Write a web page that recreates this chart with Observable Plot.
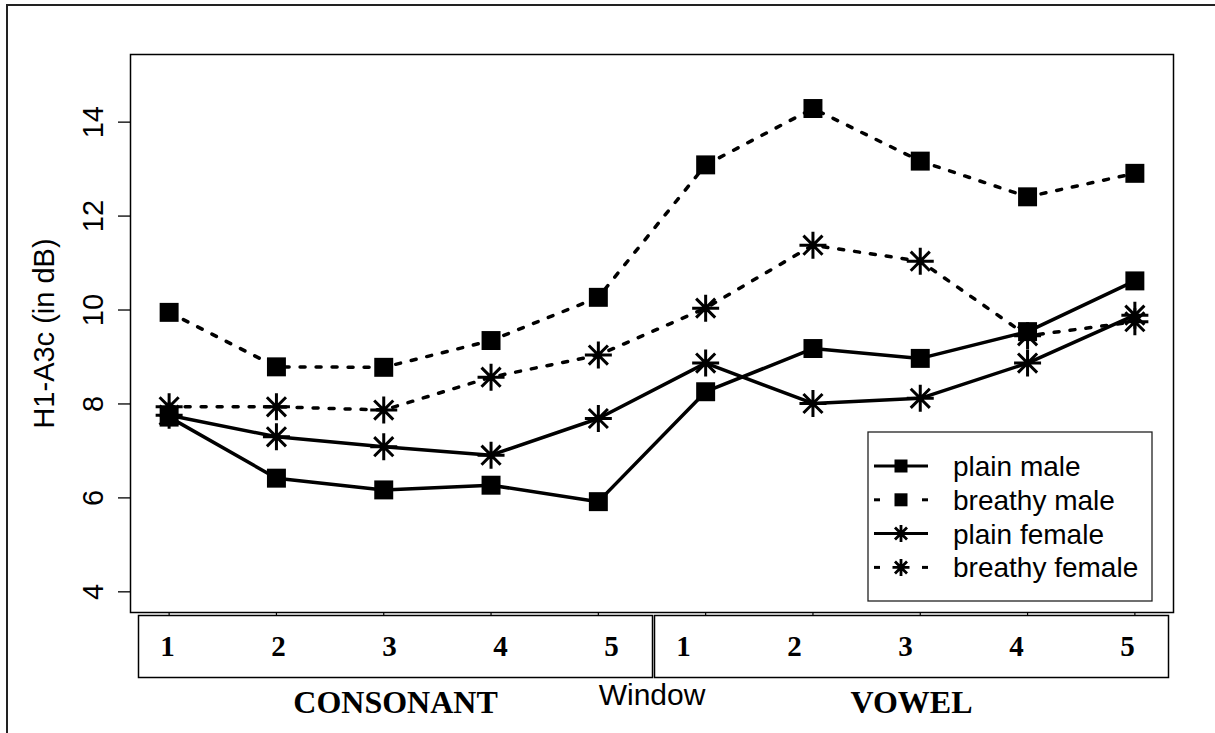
<!DOCTYPE html>
<html><head><meta charset="utf-8">
<script src="https://cdn.jsdelivr.net/npm/d3@7"></script>
<script src="https://cdn.jsdelivr.net/npm/@observablehq/plot@0.6"></script>
<style>
body{margin:0;background:#fff}
#wrap{position:relative;width:1215px;height:733px;overflow:hidden;background:#fff}
#wrap svg{position:absolute;left:0}
</style></head><body><div id="wrap"></div>
<script>
// ---------- data ----------
const windowIndex = [1,2,3,4,5,6,7,8,9,10];
const windowLabels = [1,2,3,4,5];
const sections = ["CONSONANT","VOWEL"];
const seriesNames = ["plain male","breathy male","plain female","breathy female"];
const plainMale     = [7.72, 6.42, 6.17, 6.27, 5.92, 8.26, 9.18, 8.97, 9.54, 10.62];
const breathyMale   = [9.95, 8.79, 8.78, 9.35, 10.27, 13.09, 14.29, 13.17, 12.41, 12.91];
const plainFemale   = [7.76, 7.30, 7.09, 6.91, 7.69, 8.87, 8.01, 8.12, 8.87, 9.89];
const breathyFemale = [7.94, 7.94, 7.87, 8.57, 9.04, 10.04, 11.38, 11.04, 9.45, 9.75];
const yTicks = [4,6,8,10,12,14];
const yLimits = [4,15];
const yTitle = "H1-A3c (in dB)";
const xTitle = "Window";

// ---------- setup ----------
const seriesValues = [plainMale, breathyMale, plainFemale, breathyFemale];
const rows = seriesNames.flatMap((s, k) => windowIndex.map((x, i) => ({
  series: s, x, y: seriesValues[k][i],
  dashed: s.startsWith("breathy"), male: s.endsWith(" male")
})));
const sans = "'Liberation Sans', Arial, sans-serif";
const serif = "'Liberation Serif', 'Times New Roman', serif";
const expand = ([a, b]) => { const p = (b - a) * 0.04; return [a - p, b + p]; };
const star = {draw(ctx, size) {
  const r = Math.sqrt(size / Math.PI), d = r * Math.SQRT1_2;
  ctx.moveTo(0, -r); ctx.lineTo(0, r);
  ctx.moveTo(-r, 0); ctx.lineTo(r, 0);
  ctx.moveTo(-d, -d); ctx.lineTo(d, d);
  ctx.moveTo(-d, d); ctx.lineTo(d, -d);
}};

const main = Plot.plot({
  width: 1215, height: 733,
  marginLeft: 130, marginRight: 42, marginTop: 54, marginBottom: 121,
  style: {fontFamily: sans, background: "transparent", color: "black"},
  x: {domain: expand(d3.extent(windowIndex)), axis: null},
  y: {domain: expand(yLimits), axis: null},
  marks: [
    Plot.axisX(windowIndex, {tickSize: 3, tickFormat: () => "", label: null, strokeWidth: 1.2}),
    Plot.axisY(yTicks, {tickSize: 12, tickFormat: () => "", label: null, strokeWidth: 1.3}),
    Plot.text(yTicks, {y: d => d, text: d => String(d), frameAnchor: "left", dx: -28,
      rotate: -90, lineAnchor: "bottom", textAnchor: "middle", fontSize: 29}),
    Plot.text([yTitle], {text: d => d, frameAnchor: "left", dx: -77, rotate: -90,
      lineAnchor: "bottom", textAnchor: "middle", fontSize: 29}),
    Plot.text([xTitle], {text: d => d, frameAnchor: "bottom", dy: 92, lineAnchor: "bottom", fontSize: 30}),
    Plot.frame({stroke: "black", strokeWidth: 1.5}),
    Plot.line(rows.filter(d => !d.dashed), {x: "x", y: "y", z: "series", stroke: "black", strokeWidth: 3.5}),
    Plot.line(rows.filter(d => d.dashed), {x: "x", y: "y", z: "series", stroke: "black", strokeWidth: 3.5,
      strokeDasharray: "5,11", strokeLinecap: "round"}),
    Plot.dot(rows.filter(d => d.male), {x: "x", y: "y", symbol: "square", r: 10.7, fill: "black"}),
    Plot.dot(rows.filter(d => !d.male), {x: "x", y: "y", symbol: star, r: 13.5, stroke: "black", strokeWidth: 3, fill: "none"})
  ]
});

// outer frame + legend
const svg = d3.select(main);
svg.append("rect").attr("x", 7).attr("y", 5).attr("width", 1400).attr("height", 900)
  .attr("fill", "none").attr("stroke", "#222").attr("stroke-width", 2);
const lg = svg.append("g").attr("text-anchor", "start");
lg.append("rect").attr("x", 868).attr("y", 432).attr("width", 284).attr("height", 169)
  .attr("fill", "white").attr("stroke", "#222").attr("stroke-width", 1.3);
seriesNames.forEach((s, i) => {
  const y = 466 + i * 33.8, dashed = s.startsWith("breathy"), male = s.endsWith(" male");
  const segs = dashed ? [[874, 880], [922, 928]] : [[874, 928]];
  segs.forEach(([a, b]) => lg.append("line").attr("x1", a).attr("x2", b).attr("y1", y).attr("y2", y)
    .attr("stroke", "black").attr("stroke-width", 3));
  if (male) {
    lg.append("rect").attr("x", 901 - 6.5).attr("y", y - 6.5).attr("width", 13).attr("height", 13).attr("fill", "black");
  } else {
    const p = d3.path(); star.draw(p, Math.PI * 8.5 * 8.5);
    lg.append("path").attr("d", p.toString()).attr("transform", `translate(901,${y})`)
      .attr("stroke", "black").attr("stroke-width", 2.8).attr("fill", "none");
  }
  lg.append("text").attr("x", 953).attr("y", y + 10).attr("font-size", 28).attr("text-anchor", "start")
    .attr("font-family", sans).attr("fill", "black").text(s);
});

// window boxes
const boxRows = sections.flatMap(s => windowLabels.map(w => ({section: s, w})));
const boxes = Plot.plot({
  width: 1215, height: 119,
  marginLeft: 137, marginRight: 47, marginTop: 1, marginBottom: 56,
  facet: {marginTop: 0, marginBottom: 0, marginLeft: 0, marginRight: 0},
  style: {background: "transparent", fontFamily: serif, color: "black"},
  fx: {domain: sections, paddingInner: 2 / 516, paddingOuter: 0, axis: null},
  x: {type: "point", domain: windowLabels, padding: 0.3, align: 0.42, axis: null},
  marks: [
    Plot.frame({stroke: "black", strokeWidth: 1.5}),
    Plot.text(boxRows, {fx: "section", x: "w", text: d => String(d.w), frameAnchor: "middle",
      fontSize: 29, fontWeight: "bold"}),
    Plot.text(sections, {fx: d => d, text: d => d, frameAnchor: "bottom", dy: 35,
      lineAnchor: "bottom", fontSize: 32, fontWeight: "bold"})
  ]
});

const wrap = document.getElementById("wrap");
main.style.top = "0px";
boxes.style.top = "614px";
wrap.appendChild(main);
wrap.appendChild(boxes);
</script></body></html>
